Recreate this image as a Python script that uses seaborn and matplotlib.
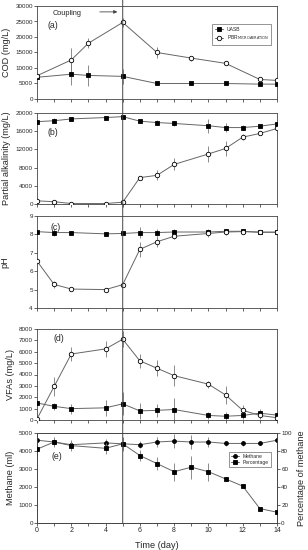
import matplotlib
matplotlib.use("Agg")
import matplotlib.pyplot as plt
import seaborn as sns
from matplotlib.patches import ConnectionPatch

# ---------------- data ----------------
days_a = [0, 2, 3, 5, 7, 9, 11, 13, 14]
cod_uasb = [7000, 8000, 7600, 7300, 5000, 5000, 5000, 4800, 4800]
cod_uasb_err = [0, 3500, 3500, 2500, 600, 400, 400, 400, 300]
cod_pbr = [7500, 12600, 18000, 24700, 15000, 13200, 11500, 6300, 6000]
cod_pbr_err = [0, 3800, 1700, 1500, 1800, 800, 500, 300, 200]

days_b = [0, 1, 2, 4, 5, 6, 7, 8, 10, 11, 12, 13, 14]
alk_uasb = [18100, 18300, 18700, 19000, 19200, 18200, 17900, 17700, 17200, 16800, 16800, 17100, 17600]
alk_uasb_err = [300, 500, 300, 400, 300, 400, 600, 500, 1500, 1000, 500, 300, 300]
alk_pbr = [700, 500, 100, 100, 400, 5800, 6300, 8700, 11000, 12200, 14700, 15500, 16600]
alk_pbr_err = [200, 400, 100, 100, 200, 300, 1100, 1300, 1700, 1600, 600, 300, 200]

days_c = [0, 1, 2, 4, 5, 6, 7, 8, 10, 11, 12, 13, 14]
ph_uasb = [8.15, 8.1, 8.1, 8.03, 8.05, 8.1, 8.1, 8.13, 8.13, 8.17, 8.17, 8.12, 8.12]
ph_uasb_err = [0.05, 0.2, 0.1, 0.08, 0.05, 0.3, 0.2, 0.15, 0.15, 0.15, 0.08, 0.05, 0.05]
ph_pbr = [6.55, 5.28, 5.03, 5.0, 5.27, 7.19, 7.6, 7.9, 8.05, 8.13, 8.15, 8.12, 8.12]
ph_pbr_err = [0, 0.2, 0.05, 0.08, 0.05, 0.4, 0.3, 0.15, 0.2, 0.15, 0.05, 0.05, 0.05]

days_d = [0, 1, 2, 4, 5, 6, 7, 8, 10, 11, 12, 13, 14]
vfa_uasb = [1500, 1200, 1000, 1070, 1420, 800, 850, 920, 400, 330, 400, 600, 430]
vfa_uasb_err = [0, 300, 450, 700, 1000, 700, 600, 1000, 300, 400, 300, 400, 200]
vfa_pbr = [100, 2950, 5800, 6250, 7100, 5200, 4550, 3900, 3150, 2200, 850, 400, 200]
vfa_pbr_err = [0, 800, 600, 700, 700, 600, 700, 900, 300, 800, 500, 300, 200]

days_e = [0, 1, 2, 4, 5, 6, 7, 8, 9, 10, 11, 12, 13, 14]
methane = [4600, 4500, 4350, 4450, 4400, 4350, 4500, 4550, 4500, 4500, 4420, 4420, 4420, 4600]
methane_err = [100, 300, 200, 200, 400, 200, 300, 400, 400, 300, 150, 150, 100, 100]
percentage = [82, 90, 86, 83, 88, 75, 66, 57, 62, 57, 49, 41, 16, 12]
percentage_err = [2, 4, 6, 6, 6, 6, 7, 10, 13, 10, 2, 2, 2, 2]

coupling_day = 5

# ---------------- style ----------------
sns.set_style("ticks")
plt.rcParams["font.family"] = ["Liberation Sans", "DejaVu Sans"]
plt.rcParams["axes.linewidth"] = 0.6
plt.rcParams["axes.edgecolor"] = "#444444"

fig = plt.figure(figsize=(3.08, 5.5), dpi=100)
L, W = 37 / 308, 240 / 308
H = 550.0
def box(top, bot):
    return [L, 1 - bot / H, W, (bot - top) / H]

ax_a = fig.add_axes(box(6, 99))
ax_b = fig.add_axes(box(113, 204))
ax_c = fig.add_axes(box(216, 308))
ax_d = fig.add_axes(box(329, 420))
ax_e = fig.add_axes(box(433, 523))

LINE = "#666666"
ERR = "#777777"
LFS = 6.6

def series(ax, x, y, err, marker, filled, label=None, ms=3.2):
    ax.errorbar(x, y, yerr=err, fmt="none", ecolor=ERR, elinewidth=0.6,
                capsize=0, zorder=2)
    sns.lineplot(x=x, y=y, ax=ax, color=LINE, linewidth=0.7, marker=marker,
                 markersize=ms, markerfacecolor="black" if filled else "white",
                 markeredgecolor="black", markeredgewidth=0.6, label=label,
                 legend=False, zorder=3)

# (a) COD
series(ax_a, days_a, cod_uasb, cod_uasb_err, "s", True, "UASB")
series(ax_a, days_a, cod_pbr, cod_pbr_err, "o", False, r"PBR$_{\mathrm{MICROAERATION}}$")
ax_a.set_ylim(0, 30000)
ax_a.set_yticks(range(0, 30001, 5000))
ax_a.set_ylabel("COD (mg/L)", fontsize=LFS, labelpad=3)
leg = ax_a.legend(loc="upper right", bbox_to_anchor=(0.985, 0.83), fontsize=3.6,
                  frameon=True, fancybox=False, edgecolor="#444444",
                  handlelength=1.6, borderpad=0.5, labelspacing=0.3)
leg.get_frame().set_linewidth(0.5)
ax_a.text(0.9, 27600, "Coupling", fontsize=5.3, va="center", ha="left")
ax_a.annotate("", xy=(4.85, 28100), xytext=(3.5, 28100),
              arrowprops=dict(arrowstyle="-|>", color="#444444", lw=0.6,
                              mutation_scale=5))
ax_a.text(0.045, 0.76, "(a)", transform=ax_a.transAxes, fontsize=6.3)

# (b) partial alkalinity
series(ax_b, days_b, alk_uasb, alk_uasb_err, "s", True)
series(ax_b, days_b, alk_pbr, alk_pbr_err, "o", False)
ax_b.set_ylim(0, 20000)
ax_b.set_yticks(range(0, 20001, 4000))
ax_b.set_ylabel("Partial alkalinity (mg/L)", fontsize=LFS, labelpad=3)
ax_b.text(0.045, 0.76, "(b)", transform=ax_b.transAxes, fontsize=6.3)

# (c) pH
series(ax_c, days_c, ph_uasb, ph_uasb_err, "s", True)
series(ax_c, days_c, ph_pbr, ph_pbr_err, "o", False)
ax_c.set_ylim(4, 9)
ax_c.set_yticks(range(4, 10))
ax_c.set_ylabel("pH", fontsize=LFS, labelpad=14)
ax_c.text(0.055, 0.85, "(c)", transform=ax_c.transAxes, fontsize=6.3)

# (d) VFAs
series(ax_d, days_d, vfa_uasb, vfa_uasb_err, "s", True)
series(ax_d, days_d, vfa_pbr, vfa_pbr_err, "o", False)
ax_d.set_ylim(0, 8000)
ax_d.set_yticks(range(0, 8001, 1000))
ax_d.set_ylabel("VFAs (mg/L)", fontsize=LFS, labelpad=3)
ax_d.text(0.07, 0.87, "(d)", transform=ax_d.transAxes, fontsize=6.3)

# (e) methane
ax_e2 = ax_e.twinx()
series(ax_e, days_e, methane, methane_err, "o", True, "Methane", ms=2.8)
series(ax_e2, days_e, percentage, percentage_err, "s", True, "Percentage", ms=2.8)
ax_e.set_ylim(0, 5000)
ax_e.set_yticks(range(0, 5001, 1000))
ax_e2.set_ylim(0, 100)
ax_e2.set_yticks(range(0, 101, 20))
ax_e.set_ylabel("Methane (ml)", fontsize=LFS, labelpad=3)
ax_e2.set_ylabel("Percentage of methane", fontsize=LFS, labelpad=4)
ax_e.text(0.06, 0.71, "(e)", transform=ax_e.transAxes, fontsize=6.3)
h1, l1 = ax_e.get_legend_handles_labels()
h2, l2 = ax_e2.get_legend_handles_labels()
leg2 = ax_e2.legend(h1 + h2, l1 + l2, loc="upper right",
                    bbox_to_anchor=(0.985, 0.82), fontsize=3.6, frameon=True,
                    fancybox=False, edgecolor="#444444", handlelength=1.6,
                    borderpad=0.4, labelspacing=0.2)
leg2.get_frame().set_linewidth(0.5)
ax_e2.tick_params(axis="y", labelsize=4.5, length=2, width=0.5, pad=1)

for ax in [ax_a, ax_b, ax_c, ax_d, ax_e]:
    ax.set_xlim(0, 14)
    ax.set_xticks(range(0, 15, 1), minor=True)
    ax.set_xticks(range(0, 15, 2))
    ax.tick_params(axis="y", labelsize=4.5, length=2, width=0.5, pad=1)
    ax.tick_params(axis="x", which="both", labelsize=5, length=2, width=0.5, pad=1)
    for s in ax.spines.values():
        s.set_visible(True)
    if ax is not ax_e:
        ax.tick_params(axis="x", which="both", labelbottom=False)
        ax.set_xlabel("")
ax_e.set_xlabel("Time (day)", fontsize=LFS, labelpad=5)

# coupling line through all panels
con = ConnectionPatch(xyA=(coupling_day, 1.07), coordsA=ax_a.get_xaxis_transform(),
                      xyB=(coupling_day, 0), coordsB=ax_e.get_xaxis_transform(),
                      color="#444444", lw=0.7, zorder=10)
fig.add_artist(con)

fig.savefig("out.png", dpi=100)
